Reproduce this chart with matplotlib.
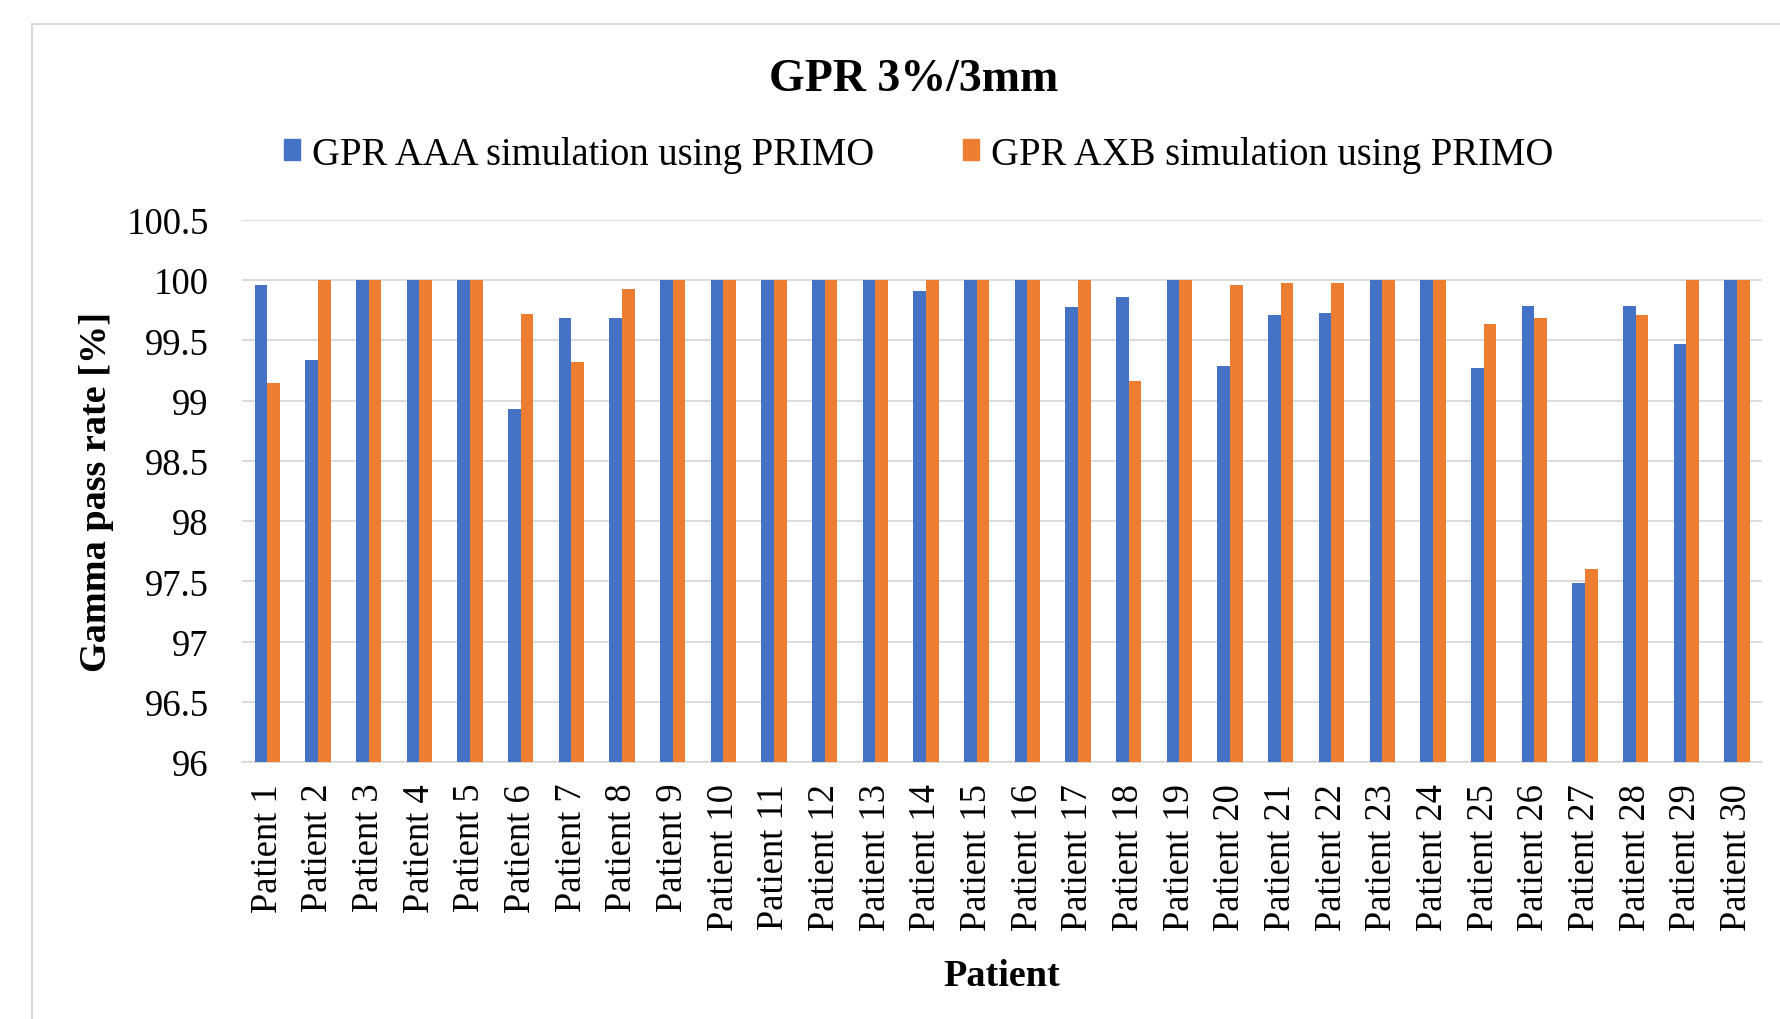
import matplotlib
matplotlib.use('Agg')
import matplotlib.pyplot as plt
from matplotlib.patches import Rectangle, Patch
from matplotlib.ticker import FuncFormatter
import numpy as np

# values
patients = ['Patient %d' % i for i in range(1, 31)]
gpr_aaa = [99.96, 99.34, 100, 100, 100, 98.93, 99.69, 99.69, 100, 100,
           100, 100, 100, 99.91, 100, 100, 99.78, 99.86, 100, 99.29,
           99.71, 99.73, 100, 100, 99.27, 99.79, 97.49, 99.79, 99.47, 100]
gpr_axb = [99.15, 100, 100, 100, 100, 99.72, 99.32, 99.93, 100, 100,
           100, 100, 100, 100, 100, 100, 100, 99.16, 100, 99.96,
           99.98, 99.98, 100, 100, 99.64, 99.69, 97.60, 99.71, 100, 100]
yticks = [96, 96.5, 97, 97.5, 98, 98.5, 99, 99.5, 100, 100.5]

blue = '#4472C4'
orange = '#ED7D31'
grid = '#D9D9D9'

plt.rcParams['font.family'] = ['Liberation Serif', 'DejaVu Serif']

fig = plt.figure(figsize=(17.8, 10.2), dpi=100)
ax = fig.add_axes([0.136, 0.252, 0.854, 0.5313])

# outer chart border, runs off the right and bottom edges like the source
fig.patches.append(Rectangle((0.018, -0.05), 1.2, 0.9755 + 0.05,
                             transform=fig.transFigure, fill=False,
                             edgecolor=grid, linewidth=1.5))

x = np.arange(len(patients))
w = 0.25
ax.bar(x - w / 2, gpr_aaa, w, color=blue, zorder=3)
ax.bar(x + w / 2, gpr_axb, w, color=orange, zorder=3)

ax.set_ylim(96, 100.5)
ax.set_xlim(-0.5, len(patients) - 0.5)
ax.set_yticks(yticks)
ax.yaxis.set_major_formatter(FuncFormatter(lambda v, p: '%g' % v))
ax.set_xticks(x)
ax.set_xticklabels(patients, rotation=90)
ax.tick_params(axis='y', length=0, pad=24, labelsize=26.5)
ax.tick_params(axis='x', length=0, pad=15, labelsize=26.3)
ax.grid(axis='y', color=grid, linewidth=1.3, zorder=0)
for s in ['top', 'right', 'left']:
    ax.spines[s].set_visible(False)
ax.spines['bottom'].set_color(grid)
ax.spines['bottom'].set_linewidth(1.3)

ax.set_ylabel('Gamma pass rate [%]', fontsize=27.5, fontweight='bold')
ax.yaxis.set_label_coords(-0.084, 0.5)
ax.set_xlabel('Patient', fontsize=27.5, fontweight='bold')
ax.xaxis.set_label_coords(0.5, -0.362)

fig.text(0.513, 1 - 80 / 1020, 'GPR 3%/3mm', fontsize=33, fontweight='bold',
         ha='center', va='center')

handles = [Patch(color=blue), Patch(color=orange)]
fig.legend(handles, ['GPR AAA simulation using PRIMO', 'GPR AXB simulation using PRIMO'],
           ncol=2, loc='center', bbox_to_anchor=(0.516, 1 - 155 / 1020),
           frameon=False, fontsize=27.8, handlelength=0.42, handleheight=0.47,
           handletextpad=0.3, columnspacing=2.3)

fig.savefig('out.png', dpi=100, facecolor='white')
